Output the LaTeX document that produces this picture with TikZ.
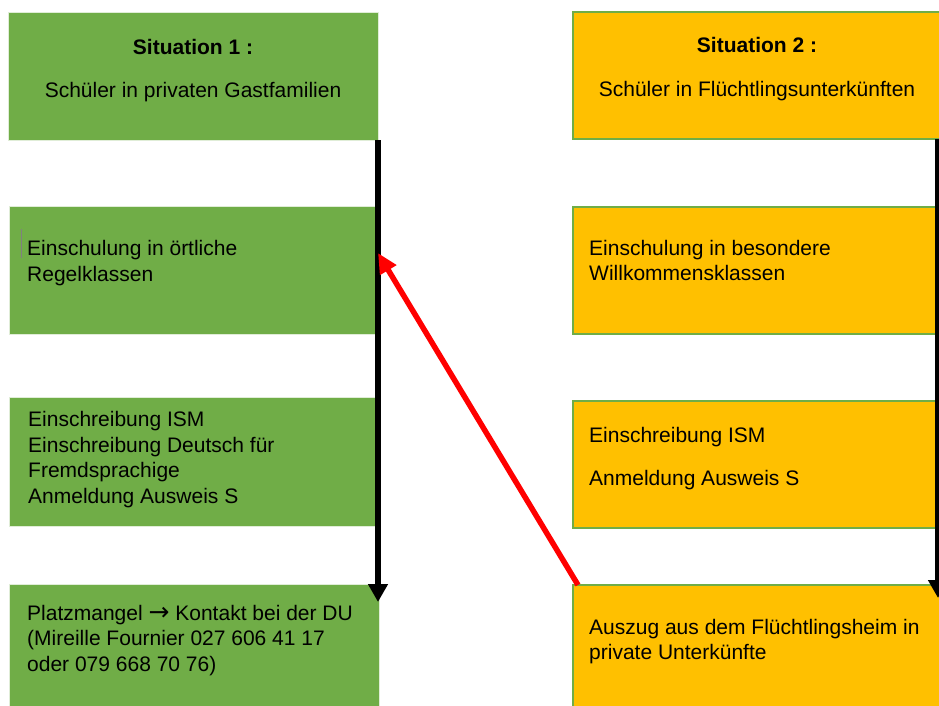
\documentclass[tikz,border=0pt]{standalone}
\usepackage{fontspec}
\setmainfont{Liberation Sans}
\newfontfamily\arrowfont{DejaVu Sans}
\usetikzlibrary{arrows.meta}
\definecolor{boxgreen}{HTML}{70AD47}
\definecolor{boxyellow}{HTML}{FFC000}

\begin{document}
\begin{tikzpicture}[x=1pt,y=-1pt,
  gbox/.style={fill=boxgreen,draw=boxgreen!22!white,line width=0.8pt,anchor=north west,inner sep=0pt,outer sep=0pt,minimum width=370pt},
  ybox/.style={fill=boxyellow,draw=boxgreen,line width=1.4pt,anchor=north west,inner sep=0pt,outer sep=0pt,minimum width=368pt},
  txt/.style={anchor=north west,inner sep=0pt,align=left,font=\fontsize{21}{25.5}\selectfont},
  ttl/.style={anchor=north,inner sep=0pt,align=center,font=\fontsize{21}{25.3}\selectfont}]
  \clip (0,0) rectangle (939,706);
  \fill[white] (0,0) rectangle (939,706);
  \node[gbox,minimum height=128pt] (sit1) at (8,12) {};
  \node[gbox,minimum height=128pt] (regel) at (9,206) {};
  \node[gbox,minimum height=129pt] (einschr1) at (9,397) {};
  \node[gbox,minimum height=140pt] (platz) at (9,584) {};
  \node[ybox,minimum height=127pt] (sit2) at (573,12) {};
  \node[ybox,minimum height=127pt] (willk) at (573,207) {};
  \node[ybox,minimum height=127pt] (einschr2) at (573,401) {};
  \node[ybox,minimum height=140pt] (auszug) at (573,585) {};
  \node[ttl] (sit1-t) at (193,38.7) {\textbf{Situation 1 :}\\[17.7pt]Schüler in privaten Gastfamilien};
  \node[ttl] (sit2-t) at (757,37.4) {\textbf{Situation 2 :}\\[18.7pt]Schüler in Flüchtlingsunterkünften};
  \node[txt] (regel-t) at (27,240.4) {Einschulung in örtliche\\Regelklassen};
  \node[txt] (einschr1-t) at (28,411.4) {Einschreibung ISM\\Einschreibung Deutsch für\\Fremdsprachige\\Anmeldung Ausweis S};
  \node[txt] (platz-t) at (27,604.7) {Platzmangel {\arrowfont\fontsize{25}{25}\selectfont →} Kontakt bei der DU\\(Mireille Fournier 027 606 41 17\\oder 079 668 70 76)};
  \node[txt] (willk-t) at (589,239.7) {Einschulung in besondere\\Willkommensklassen};
  \node[txt] (einschr2-t) at (589,427.4) {Einschreibung ISM\\[17pt]Anmeldung Ausweis S};
  \node[txt] (auszug-t) at (589,618.7) {Auszug aus dem Flüchtlingsheim in\\private Unterkünfte};
  \draw[gray,line width=1pt] (21.5,229) -- (21.5,258);
  \coordinate (lend) at (378,602);
  \coordinate (rend) at (938,598);
  \coordinate (rtip) at (378,253);
  \draw[line width=6pt,-{Triangle[width=19pt,length=18pt]}] (sit1.south east) -- (lend);
  \draw[line width=6pt,-{Triangle[width=19pt,length=18pt]}] ([xshift=-3pt]sit2.south east) -- (rend);
  \draw[red,line width=5.5pt,-{Triangle[width=18pt,length=20pt]}] ([xshift=5pt]auszug.north west) -- (rtip);
\end{tikzpicture}
\end{document}
